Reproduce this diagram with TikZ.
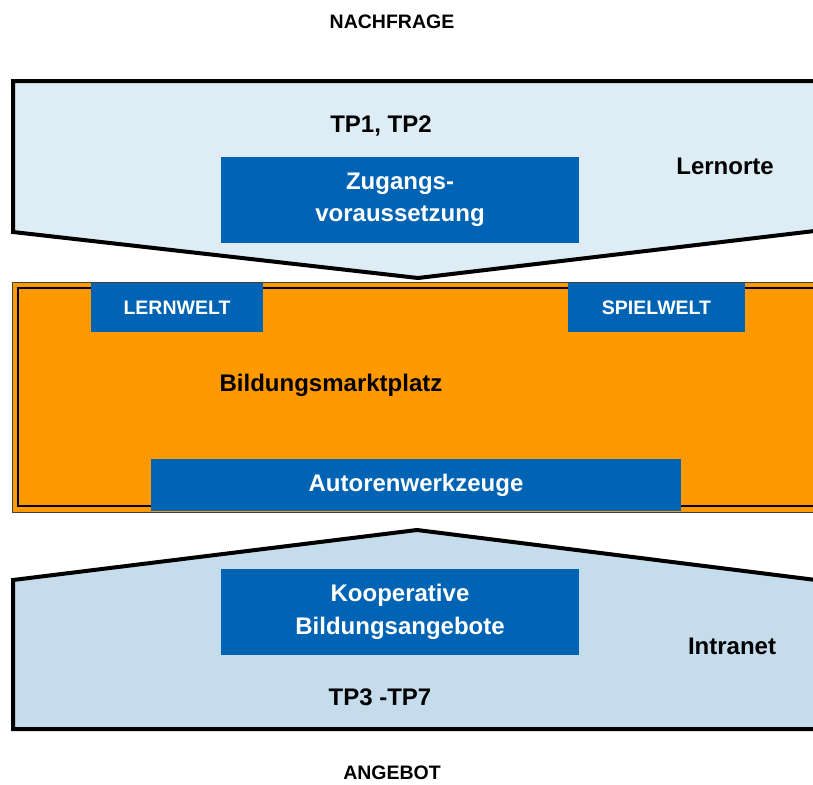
\documentclass[tikz,border=0pt]{standalone}
\usepackage{fontspec}
\setmainfont{Liberation Sans}
\usepackage{tikz}
\newcommand{\bigfont}{\fontsize{24}{32.5}\selectfont\bfseries}
\newcommand{\tagfont}{\fontsize{19.5}{23}\selectfont\bfseries}
\definecolor{myBlue}{RGB}{0,99,179}
\definecolor{myOrange}{RGB}{255,153,0}
\definecolor{myIce}{RGB}{222,236,245}
\definecolor{myPale}{RGB}{196,220,235}
\usetikzlibrary{calc,positioning}
\tikzset{
  txt/.style={font=\bigfont,inner sep=0},
  tag/.style={font=\tagfont,inner sep=0},
  bluebox/.style={fill=myBlue,text=white,align=center,inner sep=0,font=\bigfont},
  hull/.style={draw,line width=4pt,line join=miter},
}

\begin{document}
\begin{tikzpicture}[x=1pt,y=-1pt]
  \useasboundingbox (0,0) rectangle (813,784);
  \clip (0,0) rectangle (813,784);
  % demand side
  \path [hull,fill=myIce] (13,81) -- (840,81) -- (840,228) -- (418,278) -- (13,232) -- cycle;
  % supply side
  \path [hull,fill=myPale] (13,580) -- (417,530) -- (840,583) -- (840,729) -- (13,729) -- cycle;
  % market place
  \path [fill=myOrange,draw=black!75,line width=1pt] (12.5,282.5) rectangle (845,512.5);
  \draw [line width=2pt] (18,288) rectangle (845,506);
  \node (nachfrage) [tag] at (392,22) {NACHFRAGE};
  \node (angebot) [tag] at (392,773) {ANGEBOT};
  \node (tpa) [txt] at (381,126) {TP1, TP2};
  \node (lernorte) [txt] at (725,166) {Lernorte};
  \node (zugang) [bluebox,minimum width=358pt,minimum height=86pt] at (400,200) {Zugangs-\\voraussetzung};
  \node (lernwelt) [bluebox,font=\tagfont,minimum width=172pt,minimum height=49pt] at (177,307.5) {LERNWELT};
  \node (spielwelt) [bluebox,font=\tagfont,minimum width=177pt,minimum height=49pt] at (656.5,307.5) {SPIELWELT};
  \node (markt) [txt] at (331,385) {Bildungsmarktplatz};
  \node (autoren) [bluebox,minimum width=530pt,minimum height=52pt] at (416,485) {Autorenwerkzeuge};
  \node (koop) [bluebox,minimum width=358pt,minimum height=86pt] at (400,612) {Kooperative\\Bildungsangebote};
  \node (intranet) [txt] at (732,646) {Intranet};
  \node (tpb) [txt] at (380,697) {TP3 -TP7};
\end{tikzpicture}
\end{document}
